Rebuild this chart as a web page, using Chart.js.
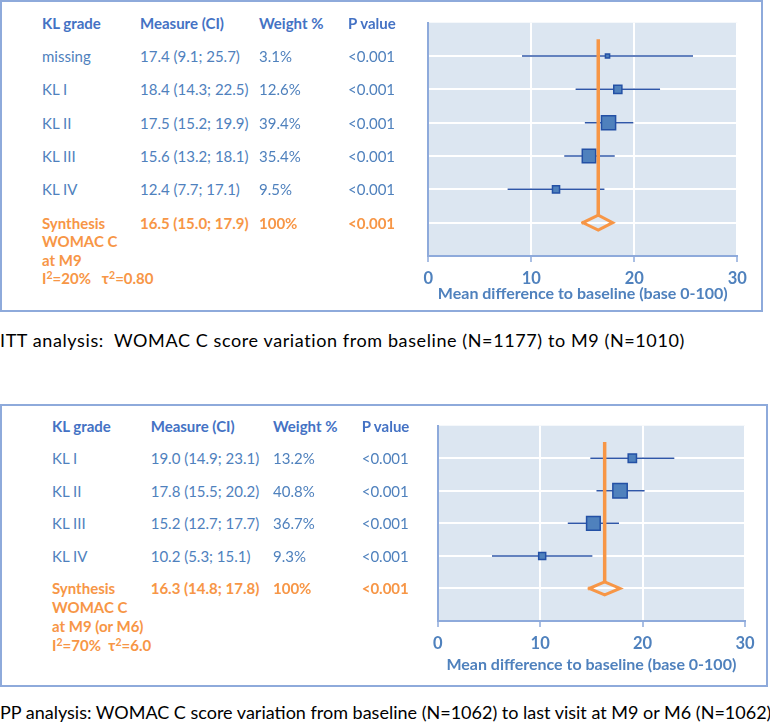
<!DOCTYPE html>
<html><head><meta charset="utf-8">
<script src="https://cdn.jsdelivr.net/npm/chart.js@4.4.1/dist/chart.umd.min.js"></script>
<style>
body{margin:0;width:770px;height:724px;position:relative;background:#fff;font-family:Lato,"Noto Sans",sans-serif;overflow:hidden}
.panel{position:absolute;border:2px solid #8eaadb;box-sizing:border-box}
.t{position:absolute;white-space:pre;font-size:15px;color:#4f81bd;line-height:18px;transform:translateY(-50%)}
.h{font-weight:bold;color:#4472c4}
.o{font-weight:bold;color:#f79646}
.t sup{font-size:70%;line-height:0;vertical-align:0.45em}
.cap{position:absolute;left:0;font-size:18px;color:#000;white-space:pre;line-height:20px;transform:translateY(-50%)}
canvas{position:absolute}
</style>
</head><body>
<div class="panel" style="left:0;top:0;width:763px;height:312px"></div>
<div class="panel" style="left:0;top:404px;width:768px;height:283px"></div>
<div class="cap" style="top:340px;letter-spacing:0.6px">ITT analysis:  WOMAC C score variation from baseline (N=1177) to M9 (N=1010)</div>
<div class="cap" style="top:712px">PP analysis: WOMAC C score variation from baseline (N=1062) to last visit at M9 or M6 (N=1062)</div>
<div id="c1wrap" style="position:absolute;left:380px;top:2px;width:388px;height:306px"><canvas id="c1"></canvas></div>
<div id="c2wrap" style="position:absolute;left:380px;top:406px;width:385px;height:278px"><canvas id="c2"></canvas></div>
<script>
// ---------- DATA ----------
const headers = ['KL grade', 'Measure (CI)', 'Weight %', 'P value'];
const xTicks = [0, 10, 20, 30];
const axisTitle = 'Mean difference to baseline (base 0-100)';

// ITT analysis (top)
const ittGrades  = ['missing', 'KL I', 'KL II', 'KL III', 'KL IV'];
const ittMeasure = [17.4, 18.4, 17.5, 15.6, 12.4];
const ittLow     = [9.1, 14.3, 15.2, 13.2, 7.7];
const ittHigh    = [25.7, 22.5, 19.9, 18.1, 17.1];
const ittWeight  = [3.1, 12.6, 39.4, 35.4, 9.5];
const ittP       = ['<0.001', '<0.001', '<0.001', '<0.001', '<0.001'];
const ittSynthesis = [16.5, 15.0, 17.9];   // estimate, low, high
const ittSynthWeight = '100%';
const ittSynthP = '<0.001';
const ittSynthLabel = ['Synthesis', 'WOMAC C', 'at M9', 'I²=20%   τ²=0.80'];

// PP analysis (bottom)
const ppGrades  = ['KL I', 'KL II', 'KL III', 'KL IV'];
const ppMeasure = [19.0, 17.8, 15.2, 10.2];
const ppLow     = [14.9, 15.5, 12.7, 5.3];
const ppHigh    = [23.1, 20.2, 17.7, 15.1];
const ppWeight  = [13.2, 40.8, 36.7, 9.3];
const ppP       = ['<0.001', '<0.001', '<0.001', '<0.001'];
const ppSynthesis = [16.3, 14.8, 17.8];
const ppSynthWeight = '100%';
const ppSynthP = '<0.001';
const ppSynthLabel = ['Synthesis', 'WOMAC C', 'at M9 (or M6)', 'I²=70%  τ²=6.0'];

// ---------- STYLE ----------
const BLUE_AXIS = '#8eaadb';
const TEXT_BLUE = '#4f81bd';
const ORANGE = '#f79646';
const PLOT_BG = '#dce6f1';

const bgPlugin = {
  id: 'plotbg',
  beforeDraw(chart) {
    const {ctx, chartArea: a} = chart;
    ctx.save(); ctx.fillStyle = PLOT_BG;
    ctx.fillRect(a.left, a.top, a.right - a.left, a.bottom - a.top);
    ctx.restore();
  }
};

function esc(s) { return s.replace(/&/g, '&amp;').replace(/</g, '&lt;'); }
function fmt(v) { return v.toFixed(1); }

function buildPanel(o) {
  const n = o.grades.length;
  const diamondRow = n + 1;
  const dh = o.dh;
  const datasets = [];
  // squares
  datasets.push({
    type: 'scatter', order: 1,
    data: o.measure.map((m, i) => ({x: m, y: i + 1})),
    pointStyle: 'rect',
    pointRadius: o.weight.map(w => (2.2 * Math.sqrt(w) + 0.3) / Math.SQRT2),
    backgroundColor: '#4f81bd', borderColor: '#2350a5', borderWidth: 1.5
  });
  // synthesis vertical line
  datasets.push({
    type: 'line', order: 0,
    data: [{x: o.synth[0], y: 0.5}, {x: o.synth[0], y: diamondRow - dh}],
    borderColor: ORANGE, borderWidth: 3.5, pointRadius: 0, fill: false
  });
  // diamond
  datasets.push({
    type: 'line', order: 0,
    data: [{x: o.synth[1], y: diamondRow}, {x: o.synth[0], y: diamondRow - dh},
           {x: o.synth[2], y: diamondRow}, {x: o.synth[0], y: diamondRow + dh},
           {x: o.synth[1], y: diamondRow}],
    borderColor: ORANGE, borderWidth: 3, pointRadius: 0, fill: false,
    borderJoinStyle: 'miter', borderCapStyle: 'square'
  });
  // whiskers
  o.low.forEach((lo, i) => {
    datasets.push({
      type: 'line', order: 2,
      data: [{x: lo, y: i + 1}, {x: o.high[i], y: i + 1}],
      borderColor: '#2f57a8', borderWidth: 1.5, pointRadius: 0, fill: false
    });
  });

  const chart = new Chart(document.getElementById(o.canvas), {
    data: {datasets},
    plugins: [bgPlugin],
    options: {
      responsive: true, maintainAspectRatio: false, animation: false,
      events: [],
      layout: {padding: o.padding},
      plugins: {legend: {display: false}, tooltip: {enabled: false}},
      scales: {
        x: {
          type: 'linear', min: xTicks[0], max: xTicks[xTicks.length - 1],
          afterBuildTicks: s => { s.ticks = xTicks.map(v => ({value: v})); },
          afterFit: s => { s.height = o.xHeight; },
          grid: {
            color: c => (c.tick && c.tick.value === 0) ? 'rgba(0,0,0,0)' : '#ffffff',
            lineWidth: 2, tickColor: BLUE_AXIS, tickLength: 6, tickWidth: 1.5
          },
          border: {color: BLUE_AXIS, width: 2},
          ticks: {color: TEXT_BLUE, font: {family: 'Lato', size: 16.5, weight: 'bold'}, padding: o.tickPad, maxRotation: 0},
          title: {display: true, text: axisTitle, color: TEXT_BLUE,
                  font: {family: 'Lato', size: 16, weight: 'bold'}, padding: {top: 0, bottom: o.titlePad}}
        },
        y: {
          type: 'linear', reverse: true, min: 0, max: n + 2,
          afterBuildTicks: s => { const t = []; for (let v = 0; v <= n + 2; v++) t.push({value: v}); s.ticks = t; },
          afterFit: s => { s.width = 0; },
          grid: {
            color: c => (c.tick && (c.tick.value === 0 || c.tick.value === n + 2)) ? 'rgba(0,0,0,0)' : '#ffffff',
            lineWidth: 2, drawTicks: false
          },
          border: {color: BLUE_AXIS, width: 2},
          ticks: {display: false}
        }
      }
    }
  });

  // table text positioned through the chart's y scale
  const wrap = document.getElementById(o.canvas).parentNode;
  const top0 = wrap.offsetTop;
  const ys = chart.scales.y;
  const add = (txt, x, y, cls) => {
    const d = document.createElement('div');
    d.className = 't ' + (cls || '');
    d.innerHTML = esc(txt).replace(/²/g, '<sup>2</sup>');
    d.style.left = x + 'px';
    d.style.top = (top0 + y) + 'px';
    document.body.appendChild(d);
  };
  const yHead = ys.getPixelForValue(0);
  headers.forEach((h, j) => add(h, o.cols[j], yHead, 'h'));
  o.grades.forEach((g, i) => {
    const y = ys.getPixelForValue(i + 1);
    add(g, o.cols[0], y);
    add(fmt(o.measure[i]) + ' (' + fmt(o.low[i]) + '; ' + fmt(o.high[i]) + ')', o.cols[1], y);
    add(fmt(o.weight[i]) + '%', o.cols[2], y);
    add(o.p[i], o.cols[3], y);
  });
  const yS = ys.getPixelForValue(diamondRow);
  o.synthLabel.forEach((l, k) => add(l, o.cols[0], yS + k * o.lineStep, 'o'));
  add(fmt(o.synth[0]) + ' (' + fmt(o.synth[1]) + '; ' + fmt(o.synth[2]) + ')', o.cols[1], yS, 'o');
  add(o.synthWeight, o.cols[2], yS, 'o');
  add(o.synthP, o.cols[3], yS, 'o');
}

buildPanel({
  canvas: 'c1', grades: ittGrades, measure: ittMeasure, low: ittLow, high: ittHigh,
  weight: ittWeight, p: ittP, synth: ittSynthesis, synthWeight: ittSynthWeight, synthP: ittSynthP,
  synthLabel: ittSynthLabel,
  padding: {left: 48.3, right: 30.7, top: 20.7, bottom: 0},
  xHeight: 52, tickPad: 6.7, titlePad: 5, dh: 0.225,
  cols: [42, 140, 259, 348], lineStep: 18.5
});
buildPanel({
  canvas: 'c2', grades: ppGrades, measure: ppMeasure, low: ppLow, high: ppHigh,
  weight: ppWeight, p: ppP, synth: ppSynthesis, synthWeight: ppSynthWeight, synthP: ppSynthP,
  synthLabel: ppSynthLabel,
  padding: {left: 57.7, right: 20, top: 19.7, bottom: 0},
  xHeight: 63, tickPad: 6.7, titlePad: 9.4, dh: 0.2,
  cols: [52, 150.7, 273, 361.7], lineStep: 18.8
});
</script>
</body></html>
